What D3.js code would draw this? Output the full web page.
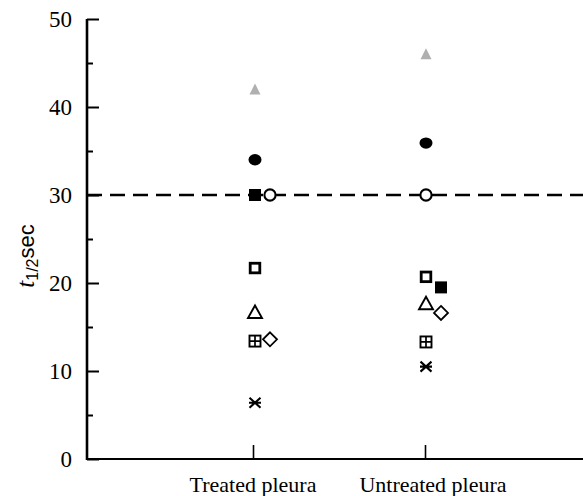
<!DOCTYPE html>
<html>
<head>
<meta charset="utf-8">
<script src="https://cdn.jsdelivr.net/npm/d3@7"></script>
<style>
  html, body { margin: 0; padding: 0; background: #fff; }
  svg { display: block; }
</style>
</head>
<body>
<svg id="chart" width="583" height="496"></svg>
<script>
// ---- Data ----
const categories = ["Treated pleura", "Untreated pleura"];
const markers = ["triangle-gray", "circle-filled", "square-filled", "circle-open",
                 "square-open", "triangle-open", "square-plus", "diamond-open", "asterisk"];
const treatedValues   = [42.0, 34.0, 30.0, 30.0, 21.7, 16.7, 13.4, 13.6, 6.4];
const untreatedValues = [46.0, 35.9, 19.5, 30.0, 20.7, 17.7, 13.3, 16.6, 10.5];
// side-by-side placement (0 = on the category line, 1 = shifted right)
const treatedSide   = [0, 0, 0, 1, 0, 0, 0, 1, 0];
const untreatedSide = [0, 0, 1, 0, 0, 0, 0, 1, 0];
const yTicks = [0, 10, 20, 30, 40, 50];
const yMinorTicks = [5, 15, 25, 35, 45];
const referenceValue = 30;
const yLabelMain = "t";
const yLabelSub = "1/2";
const yLabelUnit = "sec";

// ---- Layout ----
const svg = d3.select("#chart");
const mLeft = 87, mRight = 583, mTop = 19, mBottom = 459;

const y = d3.scaleLinear().domain([0, 50]).range([mBottom, mTop]);
const x = d3.scalePoint().domain(categories).range([255, 426]);
const side = d3.scaleOrdinal().domain([0, 1]).range([0, 15]);

const serif = "'Liberation Serif', 'Times New Roman', serif";
const sans = "'Liberation Sans', Arial, sans-serif";

// Reference dashed line
svg.append("line")
  .attr("x1", mLeft).attr("x2", mRight)
  .attr("y1", y(referenceValue)).attr("y2", y(referenceValue))
  .attr("stroke", "#000").attr("stroke-width", 2.4)
  .attr("stroke-dasharray", "15,8");

// Y axis (ticks pointing inward)
const yAxis = d3.axisRight(y).tickValues(yTicks).tickSize(12).tickFormat("");
const yAxisG = svg.append("g").attr("transform", `translate(${mLeft},0)`).call(yAxis);
yAxisG.select(".domain").remove();
yAxisG.selectAll(".tick line").attr("stroke", "#000").attr("stroke-width", 2);
const yMinor = d3.axisRight(y).tickValues(yMinorTicks).tickSize(6).tickFormat("");
const yMinorG = svg.append("g").attr("transform", `translate(${mLeft},0)`).call(yMinor);
yMinorG.select(".domain").remove();
yMinorG.selectAll(".tick line").attr("stroke", "#000").attr("stroke-width", 2);

svg.append("line")
  .attr("x1", mLeft).attr("x2", mLeft)
  .attr("y1", y(50)).attr("y2", y(0) + 1)
  .attr("stroke", "#000").attr("stroke-width", 2.6);

// Y tick labels
svg.selectAll(".ylab").data(yTicks).enter().append("text")
  .attr("x", 72).attr("y", d => y(d) + 8)
  .attr("text-anchor", "end")
  .attr("font-family", serif).attr("font-size", 23)
  .text(d => d);

// X axis
svg.append("line")
  .attr("x1", mLeft - 1).attr("x2", mRight)
  .attr("y1", mBottom).attr("y2", mBottom)
  .attr("stroke", "#000").attr("stroke-width", 2.2);
const xAxis = d3.axisTop(x).tickSize(14).tickFormat("");
const xAxisG = svg.append("g").attr("transform", `translate(0,${mBottom})`).call(xAxis);
xAxisG.select(".domain").remove();
xAxisG.selectAll(".tick line").attr("stroke", "#000").attr("stroke-width", 1.6)
  .attr("transform", (d, i) => `translate(${i === 0 ? -2 : -1},0)`);

// Category labels
svg.selectAll(".xlab").data(categories).enter().append("text")
  .attr("x", (d, i) => x(d) + (i === 0 ? -2 : 7)).attr("y", 492)
  .attr("text-anchor", "middle")
  .attr("font-family", serif).attr("font-size", 22)
  .text(d => d);

// Y axis label
const yl = svg.append("text")
  .attr("transform", "translate(34,256) rotate(-90)")
  .attr("text-anchor", "middle");
yl.append("tspan").attr("font-family", serif).attr("font-style", "italic").attr("font-size", 25).text(yLabelMain);
yl.append("tspan").attr("font-family", sans).attr("font-size", 16).attr("dy", 4).text(yLabelSub);
yl.append("tspan").attr("font-family", sans).attr("font-size", 22).attr("dy", -4).text(yLabelUnit);

// ---- Points ----
const points = [];
markers.forEach((m, i) => {
  points.push({ marker: m, cat: categories[0], value: treatedValues[i], side: treatedSide[i] });
  points.push({ marker: m, cat: categories[1], value: untreatedValues[i], side: untreatedSide[i] });
});

function drawMarker(g, m) {
  const s = 6;
  switch (m) {
    case "triangle-gray":
      g.append("path").attr("d", `M0,-6 L5.5,5 L-5.5,5 Z`)
        .attr("fill", "#b0b0b0");
      break;
    case "circle-filled":
      g.append("ellipse").attr("rx", 6.5).attr("ry", 5.7).attr("fill", "#000");
      break;
    case "square-filled":
      g.append("rect").attr("x", -s).attr("y", -s).attr("width", 2 * s).attr("height", 2 * s).attr("fill", "#000");
      break;
    case "circle-open":
      g.append("circle").attr("r", 5.6).attr("fill", "#fff").attr("stroke", "#000").attr("stroke-width", 2.1);
      break;
    case "square-open":
      g.append("rect").attr("x", -s + 1.2).attr("y", -s + 1.2).attr("width", 2 * s - 2.4).attr("height", 2 * s - 2.4)
        .attr("fill", "#fff").attr("stroke", "#000").attr("stroke-width", 2.8);
      break;
    case "triangle-open":
      g.append("path").attr("d", `M0,-6.5 L7,6 L-7,6 Z`)
        .attr("fill", "#fff").attr("stroke", "#000").attr("stroke-width", 1.9).attr("stroke-linejoin", "miter");
      break;
    case "square-plus":
      g.append("rect").attr("x", -5.5).attr("y", -5.5).attr("width", 11).attr("height", 11)
        .attr("fill", "#fff").attr("stroke", "#000").attr("stroke-width", 1.9);
      g.append("path").attr("d", `M-5.5,0 H5.5 M0,-5.5 V5.5`)
        .attr("stroke", "#000").attr("stroke-width", 1.7);
      break;
    case "diamond-open":
      g.append("path").attr("d", `M0,-7 L7,0 L0,7 L-7,0 Z`)
        .attr("fill", "#fff").attr("stroke", "#000").attr("stroke-width", 1.8);
      break;
    case "asterisk":
      g.append("path").attr("d", `M-5.5,-5 L5.5,5 M5.5,-5 L-5.5,5 M-6,0 H6`)
        .attr("stroke", "#000").attr("stroke-width", 2.1);
      break;
  }
}

svg.selectAll(".pt").data(points).enter().append("g")
  .attr("class", "pt")
  .attr("transform", d => `translate(${x(d.cat) + side(d.side)},${y(d.value)})`)
  .each(function (d) { drawMarker(d3.select(this), d.marker); });
</script>
</body>
</html>
